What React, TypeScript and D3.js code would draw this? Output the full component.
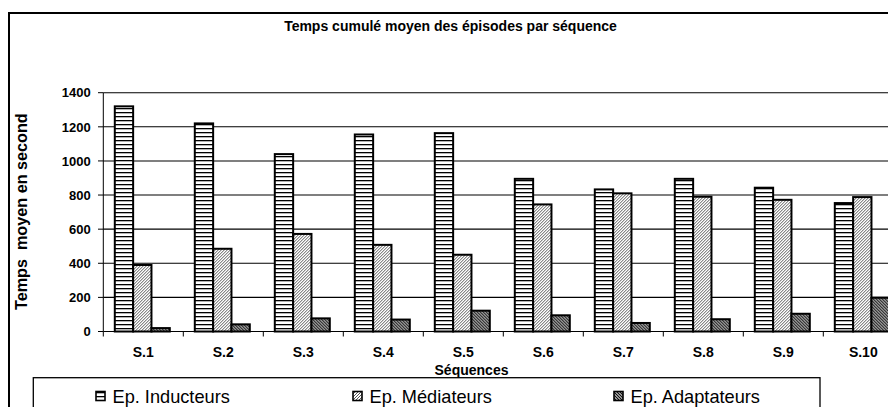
import React from "react";
import * as d3 from "d3";

const categories = ["S.1", "S.2", "S.3", "S.4", "S.5", "S.6", "S.7", "S.8", "S.9", "S.10"];
const seriesNames = ["Ep. Inducteurs", "Ep. Médiateurs", "Ep. Adaptateurs"];
const inducteurs = [1320, 1220, 1040, 1155, 1163, 895, 833, 895, 843, 753];
const mediateurs = [390, 485, 572, 508, 450, 745, 810, 790, 772, 788];
const adaptateurs = [20, 42, 77, 70, 122, 95, 50, 72, 104, 198];
const yTicks = [0, 200, 400, 600, 800, 1000, 1200, 1400];

const seriesValues = [inducteurs, mediateurs, adaptateurs];
const patternIds = ["pInd", "pMed", "pAda"];
const FONT = "'Liberation Sans', Arial, sans-serif";

export default function App() {
  const W = 888;
  const H = 407;
  const x0 = d3.scaleBand<string>().domain(categories).range([103.3, 903.3]).paddingInner(0);
  const x1 = d3.scaleBand<string>().domain(seriesNames).range([11.5, 66.5]).paddingInner(0);
  const y = d3.scaleLinear().domain([0, 1400]).range([331.5, 92.7]);

  const legendX = [96, 353, 614];

  return (
    <svg
      width={W}
      height={H}
      style={{ position: "absolute", left: 0, top: 0, display: "block", background: "#fff" }}
      fontFamily={FONT}
    >
      <defs>
        <pattern id="pInd" patternUnits="userSpaceOnUse" width={4} height={4}>
          <rect width={4} height={4} fill="#fff" />
          <rect x={0} y={0} width={4} height={1.3} fill="#000" />
        </pattern>
        <pattern id="pMed" patternUnits="userSpaceOnUse" width={3} height={3}>
          <rect width={3} height={3} fill="#fff" />
          <path d="M-1,1 L1,-1 M0,3 L3,0 M2,4 L4,2" stroke="#444" strokeWidth={0.9} />
        </pattern>
        <pattern id="pAda" patternUnits="userSpaceOnUse" width={3} height={3}>
          <rect width={3} height={3} fill="#fff" />
          <path d="M-1,2 L1,4 M0,0 L3,3 M2,-1 L4,1" stroke="#111" strokeWidth={1.3} />
        </pattern>
        <clipPath id="yTitleClip">
          <rect x={0} y={114} width={60} height={250} />
        </clipPath>
      </defs>

      <rect x={0} y={0} width={W} height={H} fill="#fff" />
      {/* outer chart border */}
      <rect x={9} y={13} width={W + 20} height={H + 20} fill="none" stroke="#000" strokeWidth={2} />

      {/* title */}
      <text x={450.5} y={30.5} textAnchor="middle" fontWeight="bold" fontSize={14}>
        Temps cumulé moyen des épisodes par séquence
      </text>

      {/* gridlines */}
      {yTicks.filter((t) => t > 0).map((t) => (
        <line key={"g" + t} x1={103.3} x2={W + 10} y1={y(t)} y2={y(t)} stroke="#000" strokeWidth={1.1} />
      ))}

      {/* y ticks and labels */}
      {yTicks.map((t) => (
        <g key={"yt" + t}>
          <line x1={98} x2={103.3} y1={y(t)} y2={y(t)} stroke="#000" strokeWidth={1} />
          <text x={90.7} y={y(t) + 4.7} textAnchor="end" fontWeight="bold" fontSize={13}>
            {t}
          </text>
        </g>
      ))}

      {/* bars */}
      {categories.map((c, i) => (
        <g key={c} transform={`translate(${x0(c)},0)`}>
          {seriesNames.map((s, k) => {
            const v = seriesValues[k][i];
            return (
              <rect
                key={s}
                x={x1(s)}
                y={y(v)}
                width={x1.bandwidth()}
                height={y(0) - y(v)}
                fill={`url(#${patternIds[k]})`}
                stroke="#000"
                strokeWidth={2}
              />
            );
          })}
        </g>
      ))}

      {/* axes */}
      <line x1={103.3} x2={103.3} y1={y(1400)} y2={y(0)} stroke="#000" strokeWidth={1} />
      <line x1={103.3} x2={W + 10} y1={y(0)} y2={y(0)} stroke="#000" strokeWidth={1} />
      {categories.map((c) => (
        <line key={"xt" + c} x1={x0(c)} x2={x0(c)} y1={y(0)} y2={y(0) + 5} stroke="#000" strokeWidth={1} />
      ))}
      {categories.map((c) => (
        <text
          key={"xl" + c}
          x={(x0(c) as number) + x0.bandwidth() / 2}
          y={356.5}
          textAnchor="middle"
          fontWeight="bold"
          fontSize={14}
        >
          {c}
        </text>
      ))}

      {/* axis titles */}
      <text x={471.5} y={375} textAnchor="middle" fontWeight="bold" fontSize={14}>
        Séquences
      </text>
      <g clipPath="url(#yTitleClip)">
        <text
          transform="translate(27,310) rotate(-90)"
          textAnchor="start"
          fontWeight="bold"
          fontSize={16.2}
          style={{ whiteSpace: "pre" }}
        >
          {"Temps  moyen en secondes"}
        </text>
      </g>

      {/* legend */}
      <rect x={33.3} y={377.7} width={786.7} height={60} fill="#fff" stroke="#000" strokeWidth={1.3} />
      {seriesNames.map((s, k) => (
        <g key={"lg" + s}>
          <rect x={legendX[k]} y={391.5} width={9} height={9} fill={`url(#${patternIds[k]})`} stroke="#000" strokeWidth={1.6} />
          <text x={legendX[k] + 16.5} y={403} fontSize={18.2}>
            {s}
          </text>
        </g>
      ))}
    </svg>
  );
}
